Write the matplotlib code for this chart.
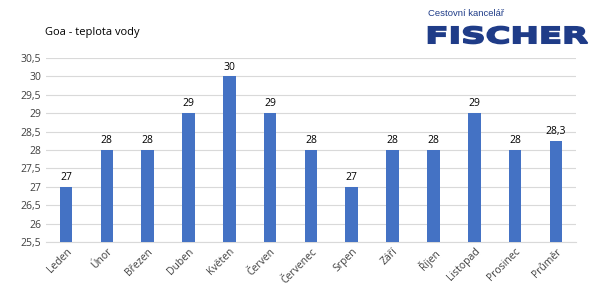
import matplotlib
matplotlib.use("Agg")
import matplotlib.pyplot as plt
from matplotlib.textpath import TextPath
from matplotlib.font_manager import FontProperties
from matplotlib.patches import PathPatch
from matplotlib.transforms import Affine2D, IdentityTransform

categories = ["Leden", "Únor", "Březen", "Duben", "Květen", "Červen", "Červenec",
              "Srpen", "Září", "Říjen", "Listopad", "Prosinec", "Průměr"]
values = [27, 28, 28, 29, 30, 29, 28, 27, 28, 28, 29, 28, 28.25]
value_labels = ["27", "28", "28", "29", "30", "29", "28", "27", "28", "28", "29", "28", "28,3"]
yticks = [25.5, 26, 26.5, 27, 27.5, 28, 28.5, 29, 29.5, 30, 30.5]
ytick_labels = ["25,5", "26", "26,5", "27", "27,5", "28", "28,5", "29", "29,5", "30", "30,5"]

plt.rcParams['font.family'] = ['Open Sans', 'DejaVu Sans']
W, H = 596, 294
fig = plt.figure(figsize=(W / 100, H / 100), dpi=100)
ax = fig.add_axes([0.0765, 0.177, 0.8905, 0.626])
x = list(range(len(categories)))
ax.bar(x, [v - 25.5 for v in values], bottom=25.5, width=0.31, color="#4472C4", zorder=3)
for xi, v, lab in zip(x, values, value_labels):
    ax.text(xi, v + 0.1, lab, ha="center", va="bottom", fontsize=7.5, color="#000000")
ax.set_xlim(-0.5, len(categories) - 0.5)
ax.set_ylim(25.5, 30.5)
ax.set_yticks(yticks)
ax.set_yticklabels(ytick_labels, fontsize=7.5, color="#404040")
ax.set_xticks(x)
ax.set_xticklabels(categories, rotation=45, ha="right", rotation_mode="anchor", fontsize=7.5, color="#404040")
ax.tick_params(axis="both", length=0, pad=3)
ax.grid(axis="y", color="#D9D9D9", linewidth=0.8, zorder=0)
for s in ["top", "right", "left"]:
    ax.spines[s].set_visible(False)
ax.spines["bottom"].set_color("#D9D9D9")
ax.spines["bottom"].set_zorder(0)

fig.text(45 / W, 1 - 33 / H, "Goa - teplota vody", fontsize=8, color="#000000", va="center", ha="left")
fig.text(428 / W, 1 - 14 / H, "Cestovní kancelář", fontsize=6.8, color="#1F3C88", va="center", ha="left",
         family="Liberation Sans")

# Logo word, stretched to fill its box (display pixel coordinates)
tp = TextPath((0, 0), "FISCHER", size=20, prop=FontProperties(family="DejaVu Sans", weight="bold"))
ext = tp.get_extents()
x0, x1, ytop, ybot = 428.5, 587.5, 26.5, 43.5
sx = (x1 - x0) / ext.width
sy = (ybot - ytop) / ext.height
tr = Affine2D().translate(-ext.x0, -ext.y0).scale(sx, sy).translate(x0, H - ybot)
patch = PathPatch(tr.transform_path(tp), facecolor="#1F3C88", edgecolor="#1F3C88", linewidth=1.2,
                  transform=IdentityTransform())
fig.patches.append(patch)
patch.set_figure(fig)

fig.savefig("out.png", dpi=100, facecolor="white")
